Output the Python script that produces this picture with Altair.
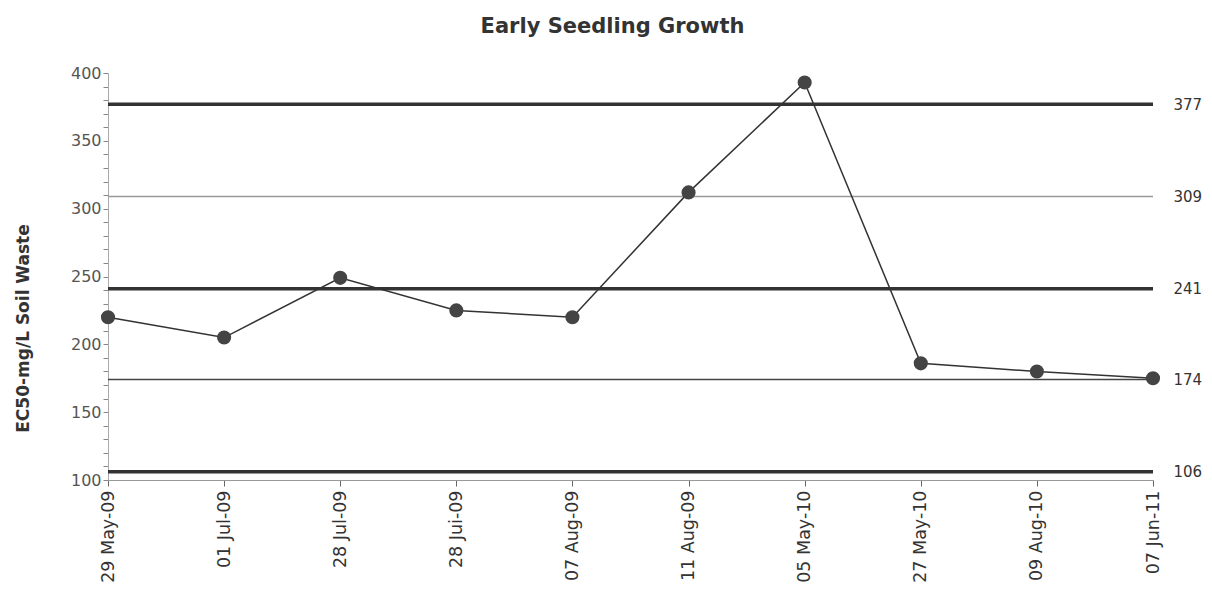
import altair as alt
import pandas as pd

labels = ["29 May-09", "01 Jul-09", "28 Jul-09", "28 Jui-09", "07 Aug-09",
          "11 Aug-09", "05 May-10", "27 May-10", "09 Aug-10", "07 Jun-11"]
values = [220, 205, 249, 225, 220, 312, 393, 186, 180, 175]
limits = [377, 309, 241, 174, 106]
limit_width = [3.5, 1.5, 3.5, 1.5, 3.5]
limit_color = ["#333333", "#999999", "#333333", "#444444", "#333333"]
y_ticks = list(range(100, 401, 10))

df = pd.DataFrame({"idx": list(range(len(labels))), "label": labels, "value": values})
lim = pd.DataFrame({"limit": limits, "w": limit_width, "c": limit_color})

label_expr = "[" + ",".join("'%s'" % l for l in labels) + "][datum.value]"

x_enc = alt.X("idx:Q", scale=alt.Scale(domain=[0, len(labels) - 1], nice=False, zero=False),
              axis=alt.Axis(values=list(range(len(labels))), labelExpr=label_expr,
                            labelAngle=-90, labelFontSize=17.5, labelColor="#333",
                            labelFont="DejaVu Sans", title=None, grid=False,
                            domainColor="#999", tickColor="#666", tickSize=6,
                            labelPadding=4))
y_scale = alt.Scale(domain=[100, 400], nice=False, zero=False)

line = alt.Chart(df).mark_line(color="#333333", strokeWidth=1.5).encode(
    x=x_enc,
    y=alt.Y("value:Q", scale=y_scale,
            axis=alt.Axis(values=y_ticks,
                          labelExpr="datum.value % 50 == 0 ? datum.value : ''",
                          title="EC50-mg/L Soil Waste",
                          titleFont="DejaVu Sans", titleFontSize=17, titleFontWeight="bold",
                          titleColor="#333", titlePadding=38, titleY=255,
                          labelFont="DejaVu Sans", labelFontSize=16, labelColor="#555",
                          grid=False, domainColor="#aaa", tickColor="#888", tickSize=5))
)
pts = alt.Chart(df).mark_point(filled=True, size=200, color="#444444", opacity=1).encode(
    x="idx:Q", y=alt.Y("value:Q", axis=None)
)
rules = alt.Chart(lim).mark_rule().encode(
    y=alt.Y("limit:Q", scale=y_scale,
            axis=alt.Axis(orient="right", values=limits, title=None, domain=False, ticks=False,
                          labelFont="DejaVu Sans", labelFontSize=15, labelColor="#333",
                          labelPadding=20, grid=False)),
    strokeWidth=alt.StrokeWidth("w:Q", scale=None, legend=None),
    color=alt.Color("c:N", scale=None, legend=None),
)

chart = alt.layer(rules, line, pts).resolve_axis(y="independent").resolve_scale(y="shared").properties(
    width=1045, height=407,
    title=alt.Title("Early Seedling Growth", font="DejaVu Sans", fontSize=21, fontWeight="bold",
                    color="#333", offset=28, dx=-18),
    autosize=alt.AutoSizeParams(type="none"),
    padding={"left": 100, "top": 65, "right": 50, "bottom": 110},
).configure_view(stroke=None)

chart.save("out.html", embed_options={"renderer": "svg", "actions": False})
